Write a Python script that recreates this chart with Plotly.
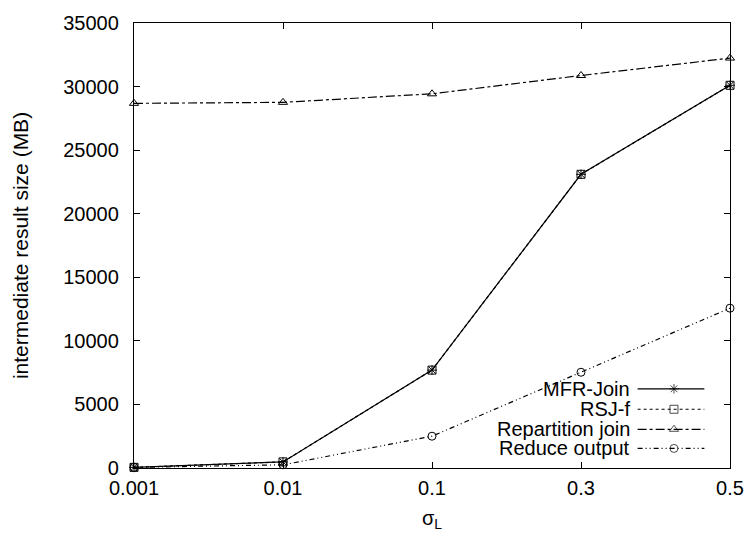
import plotly.graph_objects as go

# selectivity levels on the x axis
sigma_labels = ["0.001", "0.01", "0.1", "0.3", "0.5"]

# intermediate result size in MB per method
mfr_join = [50, 480, 7700, 23100, 30100]
rsj_f = [50, 480, 7700, 23100, 30100]
repartition_join = [28680, 28760, 29430, 30870, 32240]
reduce_output = [50, 250, 2500, 7530, 12570]

y_ticks = [0, 5000, 10000, 15000, 20000, 25000, 30000, 35000]

series = [
    ("MFR-Join", mfr_join, "solid", "asterisk-open", 8),
    ("RSJ-f", rsj_f, "dot", "square-open", 8),
    ("Repartition join", repartition_join, "dashdot", "triangle-up-open", 8),
    ("Reduce output", reduce_output, "5px,3px,1px,3px,1px,3px", "circle-open", 8),
]

FONT = "Liberation Sans, Arial, Helvetica, sans-serif"
fig = go.Figure()

idx = list(range(len(sigma_labels)))
for name, vals, dash, sym, msize in series:
    fig.add_trace(go.Scatter(
        x=idx, y=vals, mode="lines+markers", name=name,
        line=dict(color="black", width=1.2, dash=dash),
        marker=dict(symbol=sym, size=msize, color="black",
                    line=dict(color="black", width=1)),
        cliponaxis=False, showlegend=False,
    ))

# key in the lower right corner: label text, then a line sample with its marker
key_rows = [0.178, 0.132, 0.087, 0.044]
for (name, vals, dash, sym, msize), ky in zip(series, key_rows):
    fig.add_trace(go.Scatter(
        x=[0.845, 0.906, 0.957], y=[ky, ky, ky], mode="lines+markers",
        xaxis="x2", yaxis="y2",
        line=dict(color="black", width=1.2, dash=dash),
        marker=dict(symbol=sym, size=[0, msize, 0], color="black",
                    line=dict(color="black", width=1)),
        showlegend=False, hoverinfo="skip",
    ))
    fig.add_annotation(
        x=0.836, y=ky, xref="x2", yref="y2", text=name, showarrow=False,
        xanchor="right", yanchor="middle",
        font=dict(family=FONT, size=20, color="black"),
    )

axis_common = dict(
    showline=True, linecolor="black", linewidth=1.3, mirror="allticks",
    ticks="inside", ticklen=6, tickwidth=1.2, tickcolor="black",
    showgrid=False, zeroline=False,
    tickfont=dict(family=FONT, size=20, color="black"),
)

fig.update_layout(
    width=756, height=541,
    margin=dict(l=134, r=17, t=18, b=73),
    paper_bgcolor="white", plot_bgcolor="white",
    xaxis=dict(
        **axis_common,
        range=[0, 4], tickmode="array", tickvals=idx, ticktext=sigma_labels,
        ticklabelstandoff=2,
        title=dict(text="σ<sub>L</sub>", font=dict(family=FONT, size=20, color="black"),
                   standoff=12),
    ),
    yaxis=dict(
        **axis_common,
        range=[0, 35000], tickmode="array", tickvals=y_ticks,
        ticktext=[str(v) for v in y_ticks],
        ticklabelstandoff=10,
        title=dict(text="intermediate result size (MB)",
                   font=dict(family=FONT, size=21, color="black"), standoff=28),
    ),
    xaxis2=dict(overlaying="x", range=[0, 1], visible=False, fixedrange=True),
    yaxis2=dict(overlaying="y", range=[0, 1], visible=False, fixedrange=True),
)

fig.write_html("out.html")
